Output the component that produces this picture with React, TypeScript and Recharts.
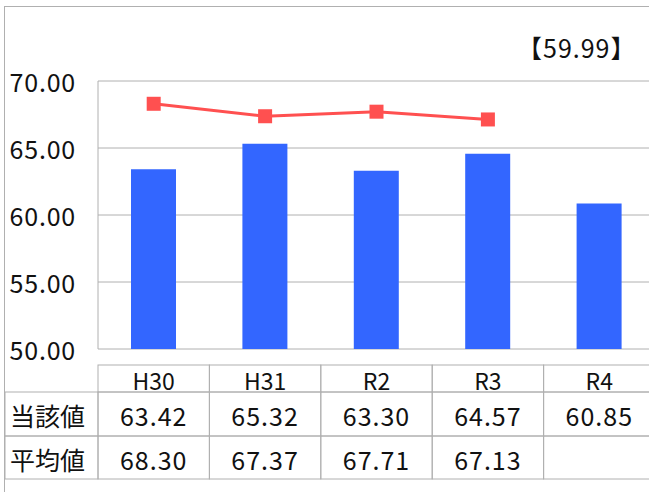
import { Bar, CartesianGrid, ComposedChart, Line, XAxis, YAxis } from "recharts";

const years = ["H30", "H31", "R2", "R3", "R4"];
const ownValues = [63.42, 65.32, 63.3, 64.57, 60.85];
const avgValues: (number | null)[] = [68.3, 67.37, 67.71, 67.13, null];
const yTicks = [50, 55, 60, 65, 70];
const rowLabels = ["当該値", "平均値"];
const noteText = "【59.99】";

const data = years.map((year, i) => ({ year, own: ownValues[i], avg: avgValues[i] }));

const FONT = "'Noto Sans CJK JP', sans-serif";
const GRID = "#b0b0b0";
const BAND = 111.4;
// table rows (y top/bottom)
const ROWS = [
  [365, 392],
  [392, 436],
  [436, 479],
];

function YTick(props: any) {
  const { y, payload } = props;
  return (
    <text x={76} y={y} textAnchor="end" dominantBaseline="central" fontSize={25} letterSpacing={0.8} fontFamily={FONT} fill="#111">
      {Number(payload.value).toFixed(2)}
    </text>
  );
}

function TableTick(props: any) {
  const { x, payload, index } = props;
  const cells = [payload.value, ownValues[index].toFixed(2), avgValues[index] == null ? "" : (avgValues[index] as number).toFixed(2)];
  return (
    <g>
      {index === 0 &&
        rowLabels.map((lab, r) => (
          <g key={lab}>
            <rect x={5} y={ROWS[r + 1][0]} width={x - BAND / 2 - 5} height={ROWS[r + 1][1] - ROWS[r + 1][0]} fill="none" stroke={GRID} />
            <text x={10} y={(ROWS[r + 1][0] + ROWS[r + 1][1]) / 2 + 1} dominantBaseline="central" fontSize={25} fontFamily={FONT} fill="#111">
              {lab}
            </text>
          </g>
        ))}
      {cells.map((c, r) => (
        <g key={r}>
          <rect x={x - BAND / 2} y={ROWS[r][0]} width={BAND} height={ROWS[r][1] - ROWS[r][0]} fill="none" stroke={GRID} />
          <text x={x} y={(ROWS[r][0] + ROWS[r][1]) / 2 + 1} textAnchor="middle" dominantBaseline="central" fontSize={r === 0 ? 23 : 25} letterSpacing={r === 0 ? 0 : 1} fontFamily={FONT} fill="#111">
            {c}
          </text>
        </g>
      ))}
    </g>
  );
}

function SquareDot(props: any) {
  const { cx, cy, index } = props;
  if (cy == null || cx == null) return <g key={index} />;
  return <rect key={index} x={cx - 7} y={cy - 7} width={14} height={14} fill="#ff5050" />;
}

export default function App() {
  return (
    <div style={{ position: "fixed", left: 0, top: 0, width: 649, height: 492, overflow: "hidden", background: "#fff" }}>
      <div style={{ position: "absolute", left: 4, top: 6, width: 700, height: 600, border: `1px solid ${GRID}` }} />
      <div style={{ position: "absolute", left: 517, top: 32, fontSize: 25, lineHeight: "30px", letterSpacing: 1, fontFamily: FONT, color: "#111" }}>{noteText}</div>
      <div style={{ position: "absolute", left: 0, top: 0 }}>
        <ComposedChart width={700} height={492} data={data} margin={{ top: 81, right: 45, bottom: 0, left: 0 }}>
          <CartesianGrid horizontal vertical={false} stroke={GRID} />
          <XAxis dataKey="year" height={143} axisLine={false} tickLine={false} tick={<TableTick />} interval={0} />
          <YAxis domain={[50, 70]} ticks={yTicks} width={98} tickLine={false} axisLine={{ stroke: GRID }} tick={<YTick />} allowDataOverflow />
          <Bar dataKey="own" fill="#3366ff" barSize={45} isAnimationActive={false} />
          <Line dataKey="avg" stroke="#ff5050" strokeWidth={3} dot={<SquareDot />} activeDot={false} isAnimationActive={false} />
        </ComposedChart>
      </div>
    </div>
  );
}
